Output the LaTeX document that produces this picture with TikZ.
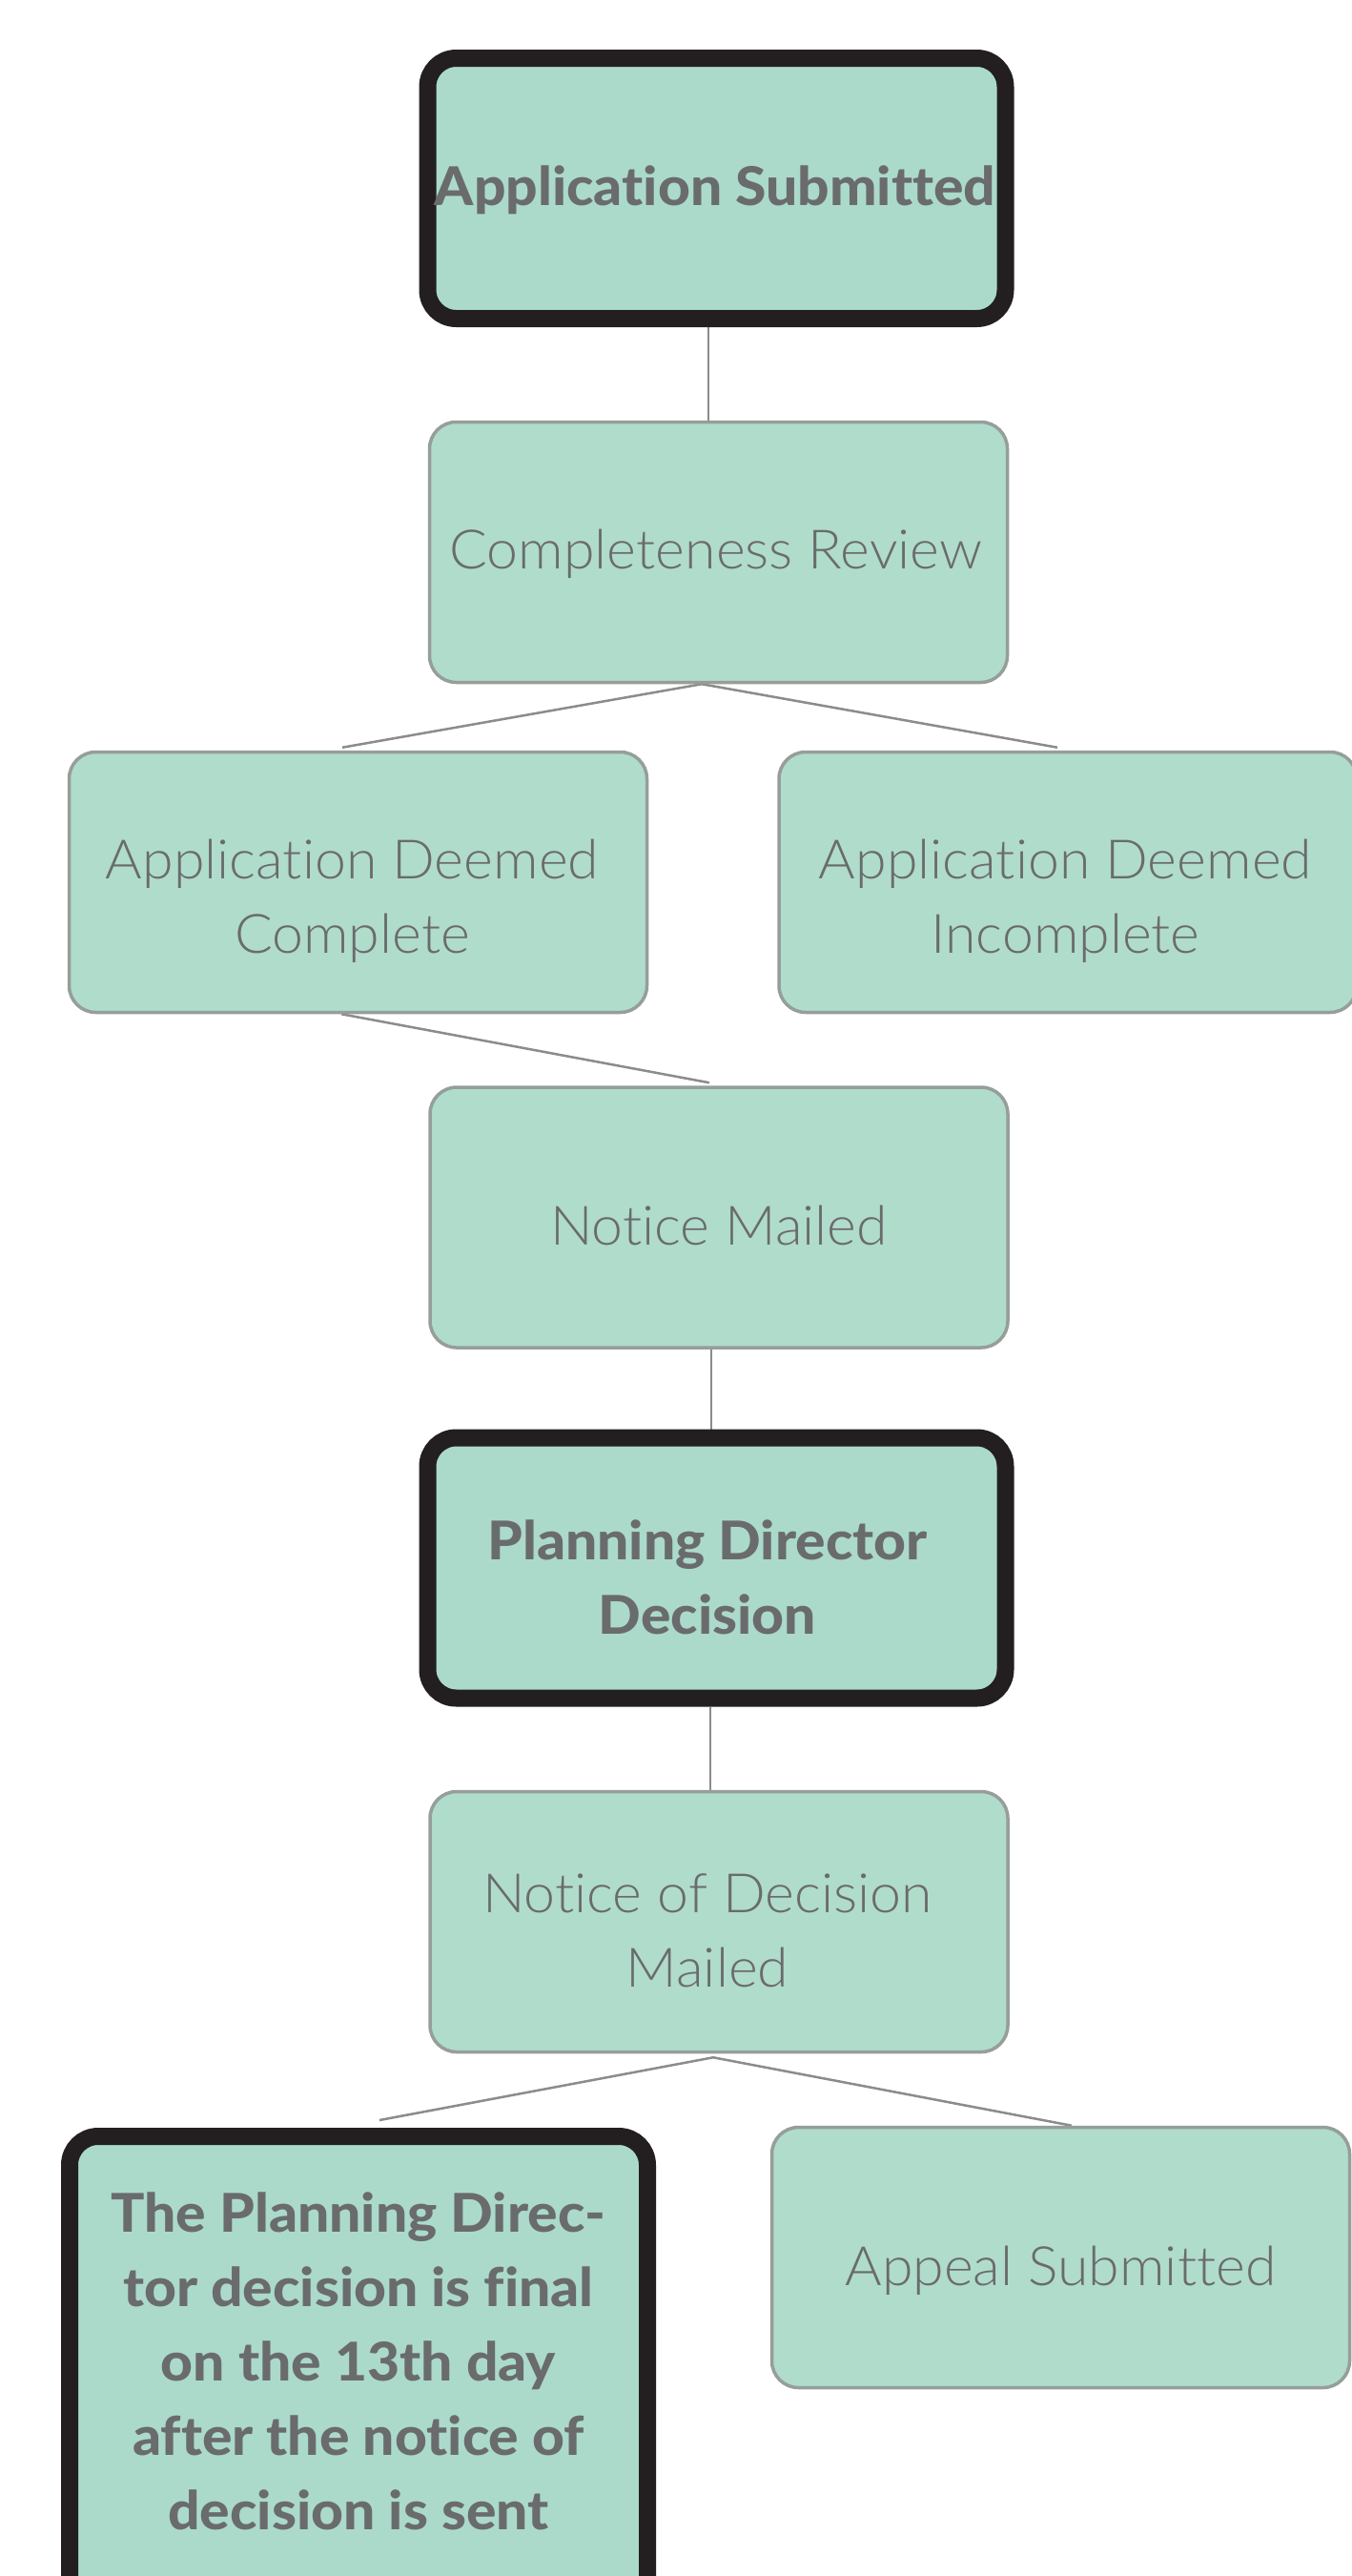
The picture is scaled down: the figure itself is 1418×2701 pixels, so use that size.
\documentclass[tikz,border=0pt]{standalone}
\usepackage{fontspec}
\setmainfont{Lato}[UprightFont=* Light, BoldFont=* Heavy, Ligatures=CommonOff,
  UprightFeatures={FakeStretch=1.035}, BoldFeatures={FakeStretch=1.05}]
\usetikzlibrary{calc}
\definecolor{boxfill}{RGB}{176,220,203}
\definecolor{boldfill}{RGB}{171,218,202}
\definecolor{boxline}{RGB}{150,158,155}
\definecolor{boldline}{RGB}{35,31,32}
\definecolor{txt}{RGB}{106,107,109}
\definecolor{conn}{RGB}{140,140,140}
\pgfdeclarelayer{background}
\pgfsetlayers{background,main}
% #1 = shift down, #2 = shift left, #3 = lines
\newcommand{\boxtext}[3]{\raisebox{-#1pt}[\height][\depth]{\hspace*{-#2pt}\begin{tabular}{@{}c@{}}#3\end{tabular}\hspace*{#2pt}}}
\tikzset{
  plainbox/.style={rectangle, rounded corners=28pt, fill=boxfill, draw=boxline,
    line width=3.5pt, minimum width=606pt, minimum height=273pt, inner sep=0pt,
    text=txt, align=center, font=\fontsize{57}{78}\selectfont},
  boldbox/.style={rectangle, rounded corners=30pt, fill=boldfill, draw=boldline,
    line width=18pt, minimum width=606pt, minimum height=273pt, inner sep=0pt,
    text=txt, align=center, font=\fontsize{56}{78}\selectfont\bfseries},
  connector/.style={draw=conn, line width=2.5pt}
}
\begin{document}
\begin{tikzpicture}[x=1pt,y=-1pt]
\useasboundingbox (0,0) rectangle (1418,2701);
\clip (0,0) rectangle (1418,2701);

\node[boldbox]  (n1) at (751.5,197.5) {\boxtext{2}{1.5}{Application Submitted}};
\node[plainbox] (n2) at (753.5,579) {\boxtext{1.5}{2.5}{Completeness Review}};
\node[plainbox] (n3) at (375.5,925) {\boxtext{19.5}{6}{Application Deemed\\Complete}};
\node[plainbox] (n4) at (1120,925) {\boxtext{19.5}{2.5}{Application Deemed\\Incomplete}};
\node[plainbox] (n5) at (754,1276.5) {\boxtext{13}{0}{Notice Mailed}};
\node[boldbox]  (n6) at (751.5,1644) {\boxtext{14.4}{9.5}{Planning Director\\Decision}};
\node[plainbox] (n7) at (754,2015) {\boxtext{13.4}{12}{Notice of Decision\\Mailed}};
\node[boldbox, anchor=north, minimum height=494pt] (n8) at (376,2231)
  {\boxtext{-6}{0}{The Planning Direc-\\tor decision is final\\on the 13th day\\after the notice of\\decision is sent}};
\node[plainbox] (n9) at (1112.5,2367) {\boxtext{13.4}{0}{Appeal Submitted}};

\begin{pgfonlayer}{background}
\fill[white] (0,0) rectangle (1418,2701);
\draw[connector] ([xshift=-8.5pt]n1.south) -- ([xshift=-10.5pt]n2.north);
\draw[connector] ([xshift=-17.5pt]n2.south) -- ([xshift=-16.5pt,yshift=3pt]n3.north);
\draw[connector] ([xshift=-17.5pt]n2.south) -- ([xshift=-11pt,yshift=3pt]n4.north);
\draw[connector] ([xshift=-17.5pt]n3.south) -- ([xshift=-10pt,yshift=3pt]n5.north);
\draw[connector] ([xshift=-8pt]n5.south) -- ([xshift=-5.5pt]n6.north);
\draw[connector] ([xshift=-6.5pt]n6.south) -- ([xshift=-9pt]n7.north);
\draw[connector] ([xshift=-6pt,yshift=-4pt]n7.south) -- ([xshift=22pt,yshift=8pt]n8.north);
\draw[connector] ([xshift=-6pt,yshift=-4pt]n7.south) -- ([xshift=11.5pt]n9.north);
\end{pgfonlayer}
\end{tikzpicture}
\end{document}
